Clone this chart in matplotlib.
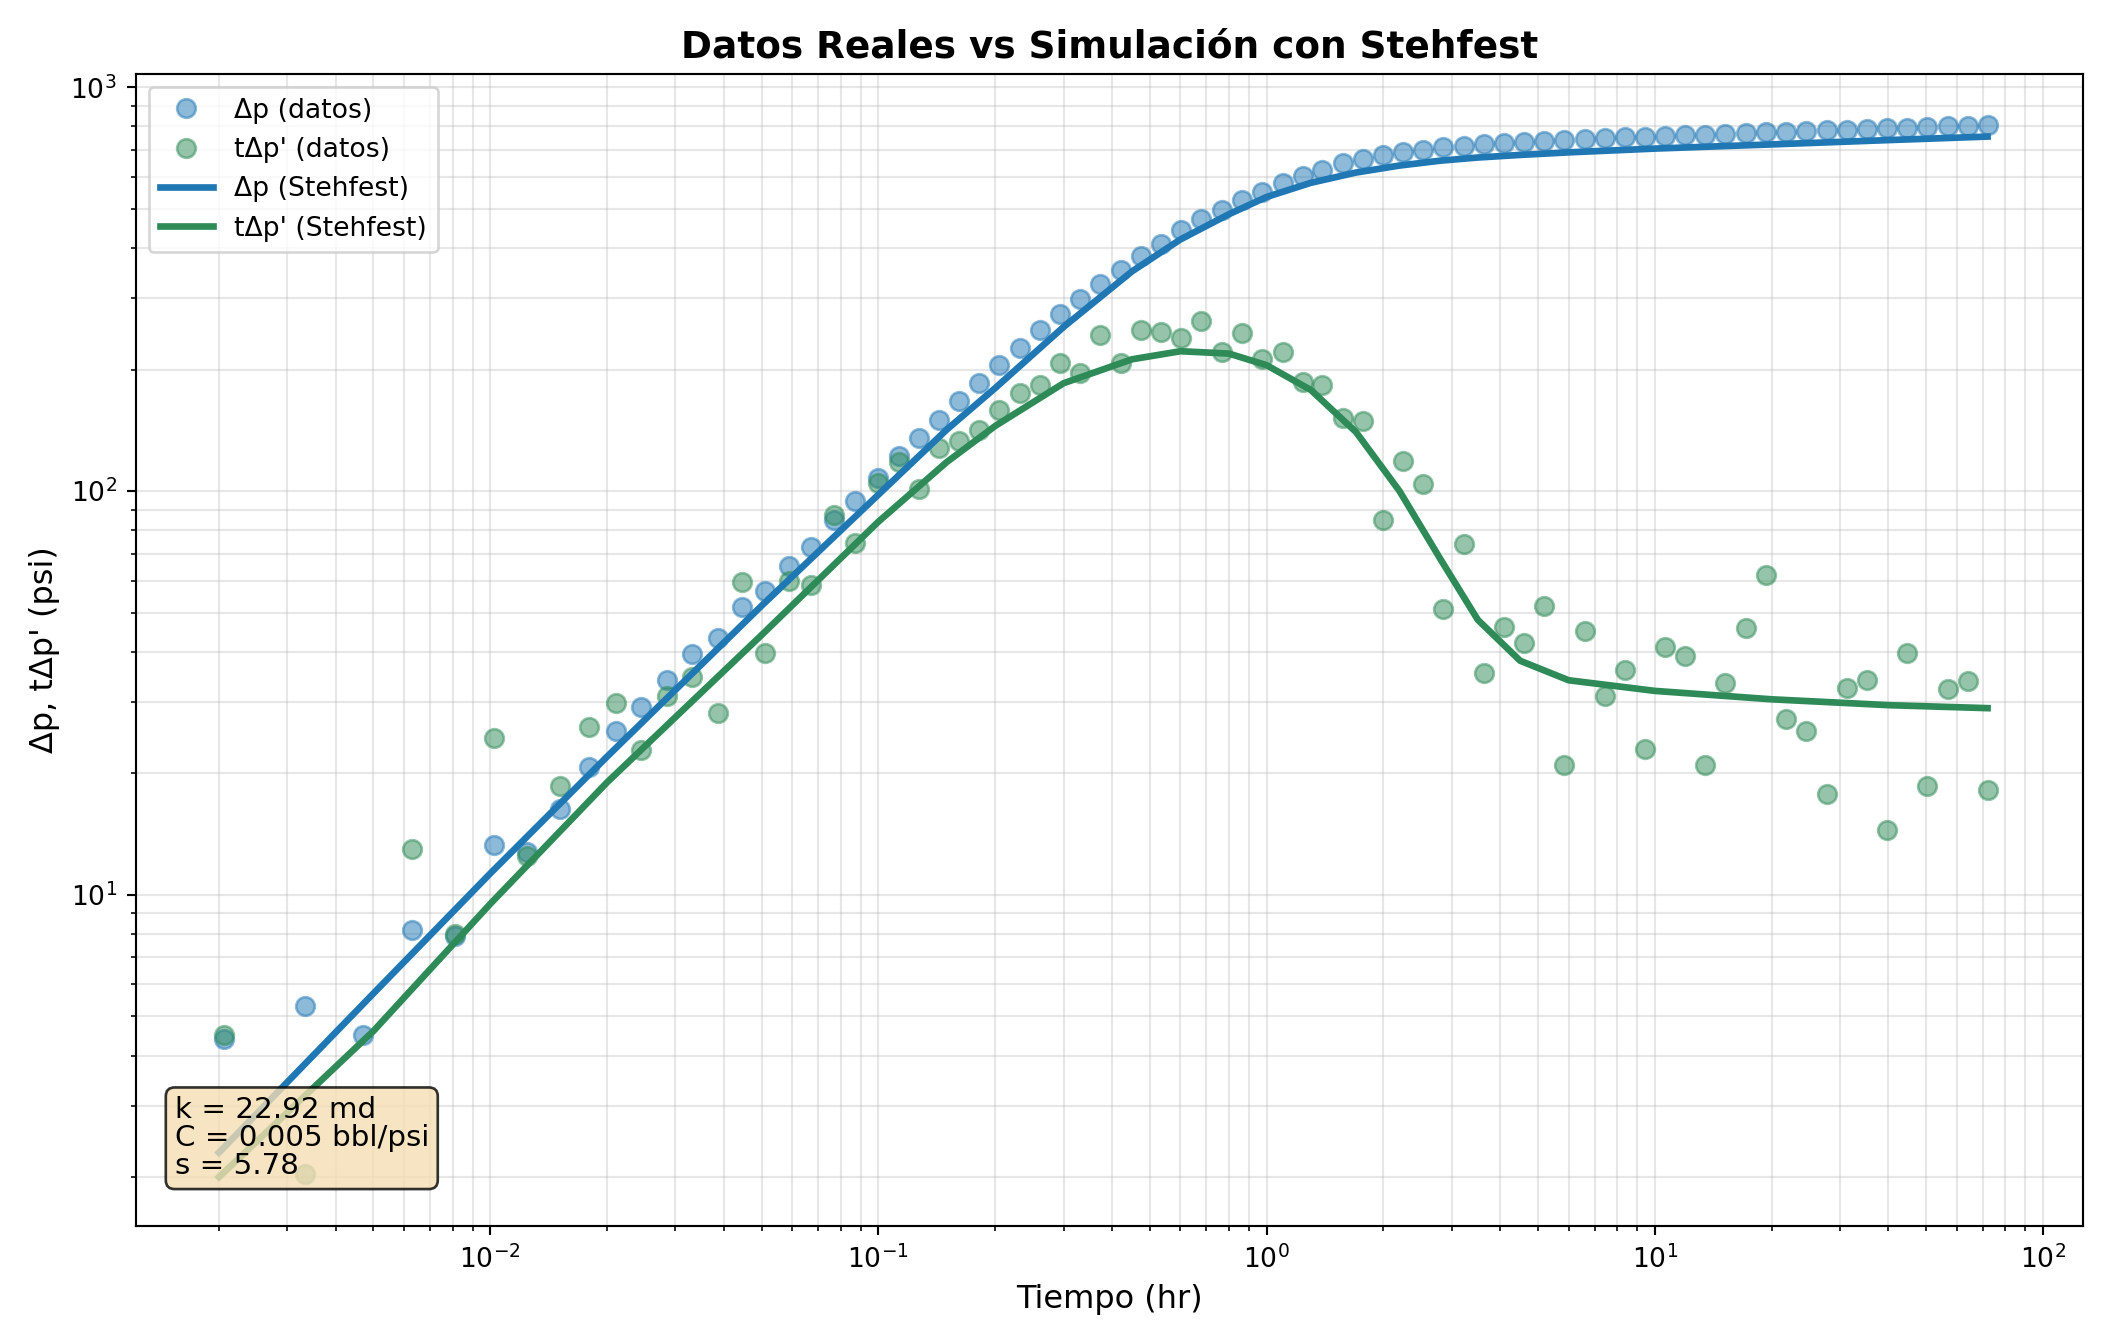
import matplotlib
matplotlib.use("Agg")
import matplotlib.pyplot as plt
import numpy as np

# tiempos (hr)
t = [0.00206, 0.00334, 0.0047, 0.0063, 0.0081, 0.0102, 0.0124, 0.0151, 0.0180, 0.0211,
     0.0245, 0.0286, 0.033, 0.0385, 0.0446, 0.051, 0.0587, 0.067, 0.0768, 0.087,
     0.1, 0.113, 0.127, 0.143, 0.161, 0.182, 0.205, 0.231, 0.261, 0.294,
     0.331, 0.373, 0.421, 0.474, 0.535, 0.603, 0.679, 0.766, 0.863, 0.973,
     1.10, 1.24, 1.39, 1.57, 1.77, 1.99, 2.25, 2.53, 2.85, 3.22,
     3.63, 4.09, 4.61, 5.19, 5.85, 6.60, 7.44, 8.38, 9.45, 10.6,
     12.0, 13.5, 15.2, 17.2, 19.4, 21.8, 24.6, 27.7, 31.2, 35.2,
     39.7, 44.7, 50.4, 56.8, 64.0, 72.0]

dp = [4.4, 5.3, 4.5, 8.2, 7.9, 13.3, 12.8, 16.3, 20.7, 25.5,
      29.2, 34, 39.4, 43.3, 51.6, 56.7, 65.3, 72.8, 85, 94.7,
      107.7, 122, 135, 150, 167, 185, 205, 226, 250, 274,
      299, 325, 352, 382, 410, 443, 471, 498, 525, 550,
      581, 604, 623, 648, 663, 679, 690, 700, 711, 717,
      722, 728, 733, 737, 741, 745, 749, 752, 755, 758,
      761, 764, 767, 770, 773, 776, 779, 782, 785, 788,
      791, 794, 797, 800, 803, 805]

tdp = [4.5, 2.04, np.nan, 13.0, 8.0, 24.5, 12.5, 18.6, 26, 29.8,
       22.9, 31, 34.7, 28.2, 59.5, 39.8, 60, 58.5, 87, 74.5,
       105, 118, 101, 128, 133, 142, 159, 175, 183, 207,
       196, 244, 207, 250, 248, 240, 264, 221, 246, 212,
       221, 186, 183, 152, 149, 85, 119, 104, 51, 74,
       35.5, 46, 42, 52, 21, 45, 31, 36, 23, 41,
       39, 21, 33.4, 45.8, 62, 27.2, 25.5, 17.8, 32.6, 34,
       14.5, 39.8, 18.6, 32.3, 33.8, 18.2]

# curvas del modelo (Stehfest)
t_m = [0.002, 0.005, 0.01, 0.02, 0.05, 0.1, 0.15, 0.2, 0.3, 0.45, 0.6, 0.8, 1.0, 1.3,
       1.7, 2.2, 2.8, 3.5, 4.5, 6, 10, 20, 40, 72]
dp_m = [2.3, 5.7, 11.3, 22, 52, 98, 142, 180, 255, 350, 420, 485, 535, 580,
        615, 640, 658, 670, 680, 690, 705, 722, 740, 755]
tdp_m = [2.0, 4.6, 9.5, 19, 44, 84, 118, 145, 185, 212, 222, 219, 205, 178,
         140, 100, 68, 48, 38, 34, 32, 30.5, 29.5, 29]

fig, ax = plt.subplots(figsize=(11, 7), dpi=192)
ax.loglog(t, dp, 'o', color='#1f77b4', alpha=0.5, markersize=7, label='Δp (datos)')
ax.loglog(t, tdp, 'o', color='#2e8b57', alpha=0.5, markersize=7, label="tΔp' (datos)")
ax.loglog(t_m, dp_m, '-', color='#1f77b4', lw=2.5, label='Δp (Stehfest)')
ax.loglog(t_m, tdp_m, '-', color='#2e8b57', lw=2.5, label="tΔp' (Stehfest)")

ax.set_xlim(1.22e-3, 127)
ax.set_ylim(1.51, 1080)
ax.grid(True, which='both', alpha=0.3)
ax.set_xlabel('Tiempo (hr)', fontsize=12)
ax.set_ylabel("Δp, tΔp' (psi)", fontsize=12)
ax.set_title('Datos Reales vs Simulación con Stehfest', fontsize=14, fontweight='bold')
ax.legend(loc='upper left')
ax.text(0.02, 0.04, 'k = 22.92 md\nC = 0.005 bbl/psi\ns = 5.78', transform=ax.transAxes,
        fontsize=11, va='bottom', linespacing=1.0,
        bbox=dict(boxstyle='round', facecolor='wheat', alpha=0.8))
fig.tight_layout()
fig.savefig('out.png')
